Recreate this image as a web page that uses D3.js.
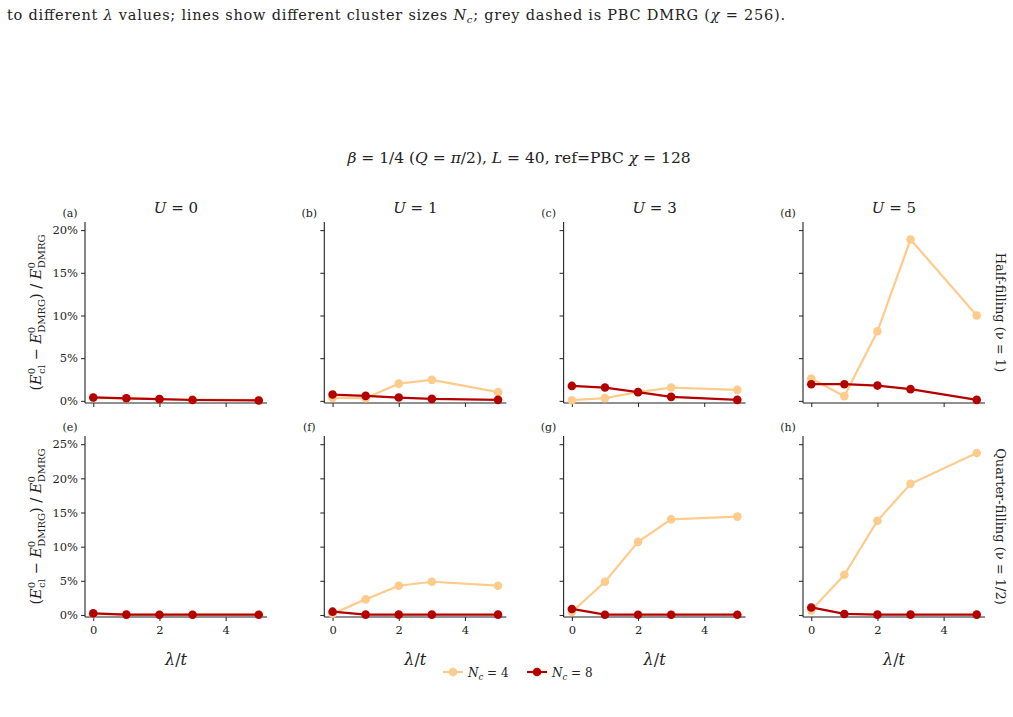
<!DOCTYPE html>
<html>
<head>
<meta charset="utf-8">
<script src="https://cdn.jsdelivr.net/npm/d3@7"></script>
<style>
  body { margin: 0; background: #fff; }
  text { font-family: "DejaVu Serif", "Liberation Serif", serif; fill: #222; }
</style>
</head>
<body>
<div id="chart-area"></div>
<script>
// Data (relative error in %)
var lambdas = [0, 1, 2, 3, 5];
var uValues = [0, 1, 3, 5];
var panelLabels = [["(a)", "(b)", "(c)", "(d)"], ["(e)", "(f)", "(g)", "(h)"]];
var rowLabels = ["Half-filling (\u03bd = 1)", "Quarter-filling (\u03bd = 1/2)"];

var halfNc4 = [
    [0.35, 0.3, 0.2, 0.15, 0.1],
    [0.35, 0.32, 2.02, 2.46, 1.02],
    [0.08, 0.32, 1.02, 1.56, 1.29],
    [2.61, 0.55, 8.15, 18.9, 10.0]
];
var halfNc8 = [
    [0.4, 0.3, 0.2, 0.1, 0.05],
    [0.74, 0.58, 0.39, 0.23, 0.12],
    [1.75, 1.56, 1.02, 0.47, 0.12],
    [1.95, 1.95, 1.79, 1.37, 0.12]
];
var quarterNc4 = [
    [0.15, 0.03, 0.03, 0.03, 0.03],
    [0.19, 2.28, 4.28, 4.86, 4.28],
    [0.44, 4.86, 10.7, 14.0, 14.4],
    [0.67, 5.88, 13.8, 19.2, 23.7]
];
var quarterNc8 = [
    [0.23, 0.05, 0.04, 0.04, 0.04],
    [0.48, 0.05, 0.05, 0.05, 0.05],
    [0.88, 0.04, 0.04, 0.04, 0.04],
    [1.1, 0.15, 0.05, 0.05, 0.05]
];
var yTicksTop = [0, 5, 10, 15, 20];
var yTicksBottom = [0, 5, 10, 15, 20, 25];
var xTicks = [0, 2, 4];

var colors = { nc4: "#fdcb8c", nc8: "#b50000" };

var width = 1013, height = 717;
var svg = d3.select("#chart-area").append("svg")
    .attr("width", width).attr("height", height);

// caption fragment at the top
svg.append("text")
    .attr("x", 7).attr("y", 20)
    .attr("font-size", 14.5)
    .attr("textLength", 778)
    .html("to different <tspan font-style='italic'>\u03bb</tspan> values; lines show different cluster sizes <tspan font-style='italic'>N</tspan><tspan font-style='italic' font-size='10' dy='3'>c</tspan><tspan dy='-3'>; grey dashed is PBC DMRG (</tspan><tspan font-style='italic'>\u03c7</tspan> = 256).");

// suptitle
svg.append("text")
    .attr("x", 519).attr("y", 163)
    .attr("text-anchor", "middle")
    .attr("font-size", 15.5)
    .html("<tspan font-style='italic'>\u03b2</tspan> = 1/4 (<tspan font-style='italic'>Q</tspan> = <tspan font-style='italic'>\u03c0</tspan>/2), <tspan font-style='italic'>L</tspan> = 40, ref=PBC <tspan font-style='italic'>\u03c7</tspan> = 128");

var colLeft = [85, 324.3, 563.6, 803];
var panelW = 182;
var rows = [
    { top: 222, bottom: 403, domain: [-0.25, 20.95], ticks: yTicksTop, nc4: halfNc4, nc8: halfNc8 },
    { top: 436, bottom: 617, domain: [-0.3, 26.2], ticks: yTicksBottom, nc4: quarterNc4, nc8: quarterNc8 }
];

rows.forEach(function (row, ri) {
    var y = d3.scaleLinear().domain(row.domain).range([row.bottom, row.top]);

    colLeft.forEach(function (left, ci) {
        var x = d3.scaleLinear().domain([-0.25, 5.25]).range([left, left + panelW]);
        var g = svg.append("g");

        // axes
        var yAxis = d3.axisLeft(y).tickValues(row.ticks).tickSize(4).tickPadding(3)
            .tickFormat(ci === 0 ? (d => d + "%") : "");
        var gy = g.append("g").attr("transform", `translate(${left},0)`).call(yAxis);
        gy.select(".domain").attr("d", `M0,${row.top}V${row.bottom}`);

        var xAxis = d3.axisBottom(x).tickValues(xTicks).tickSize(4).tickPadding(5)
            .tickFormat(ri === 1 ? d3.format("d") : "");
        var gx = g.append("g").attr("transform", `translate(0,${row.bottom})`).call(xAxis);
        gx.select(".domain").attr("d", `M${left},0H${left + panelW}`);

        g.selectAll(".domain").attr("stroke", "#222").attr("stroke-width", 1.1);
        g.selectAll(".tick line").attr("stroke", "#222");
        g.selectAll(".tick text").attr("font-size", 11.5).attr("fill", "#222")
            .attr("font-family", "DejaVu Serif, serif");

        // series
        var line = d3.line().x((d, i) => x(lambdas[i])).y(d => y(d));
        [["nc4", row.nc4[ci]], ["nc8", row.nc8[ci]]].forEach(function (s) {
            g.append("path").datum(s[1])
                .attr("fill", "none")
                .attr("stroke", colors[s[0]])
                .attr("stroke-width", 2.2)
                .attr("d", line);
            g.selectAll(".pt-" + s[0]).data(s[1]).enter().append("circle")
                .attr("cx", (d, i) => x(lambdas[i]))
                .attr("cy", d => y(d))
                .attr("r", 4.3)
                .attr("fill", colors[s[0]]);
        });

        // panel label
        g.append("text")
            .attr("x", left - 15).attr("y", row.top - 5)
            .attr("text-anchor", "middle")
            .attr("font-size", 11)
            .text(panelLabels[ri][ci]);

        // column titles
        if (ri === 0) {
            g.append("text")
                .attr("x", left + panelW / 2).attr("y", 213)
                .attr("text-anchor", "middle")
                .attr("font-size", 15)
                .html("<tspan font-style='italic'>U</tspan> = " + uValues[ci]);
        }
        // x label
        if (ri === 1) {
            g.append("text")
                .attr("x", left + panelW / 2).attr("y", 665)
                .attr("text-anchor", "middle")
                .attr("font-size", 16)
                .html("<tspan font-style='italic'>\u03bb</tspan>/<tspan font-style='italic'>t</tspan>");
        }
    });

    // y label
    var cy = (row.top + row.bottom) / 2;
    svg.append("text")
        .attr("transform", `translate(41,${cy}) rotate(-90)`)
        .attr("text-anchor", "middle")
        .attr("font-size", 14.5)
        .html("(<tspan font-style='italic'>E</tspan><tspan font-size='10' dy='-6'>0</tspan><tspan font-size='10' dx='-6' dy='10'>cl</tspan><tspan dy='-4'> \u2212 </tspan><tspan font-style='italic'>E</tspan><tspan font-size='10' dy='-6'>0</tspan><tspan font-size='10' dx='-6' dy='10'>DMRG</tspan><tspan dy='-4'>) / </tspan><tspan font-style='italic'>E</tspan><tspan font-size='10' dy='-6'>0</tspan><tspan font-size='10' dx='-6' dy='10'>DMRG</tspan>");

    // row label on the right
    svg.append("text")
        .attr("transform", `translate(996,${cy}) rotate(90)`)
        .attr("text-anchor", "middle")
        .attr("font-size", 13)
        .text(rowLabels[ri]);
});

// legend
var legend = [
    { key: "nc4", label: "4", x: 443 },
    { key: "nc8", label: "8", x: 527 }
];
legend.forEach(function (l) {
    var lg = svg.append("g").attr("transform", `translate(${l.x},672)`);
    lg.append("line").attr("x1", 0).attr("x2", 20)
        .attr("stroke", colors[l.key]).attr("stroke-width", 2.2);
    lg.append("circle").attr("cx", 10).attr("r", 4.3).attr("fill", colors[l.key]);
    lg.append("text").attr("x", 25).attr("y", 4.5).attr("font-size", 12)
        .html("<tspan font-style='italic'>N</tspan><tspan font-style='italic' font-size='8.5' dy='3'>c</tspan><tspan dy='-3'> = " + l.label + "</tspan>");
});
</script>
</body>
</html>
